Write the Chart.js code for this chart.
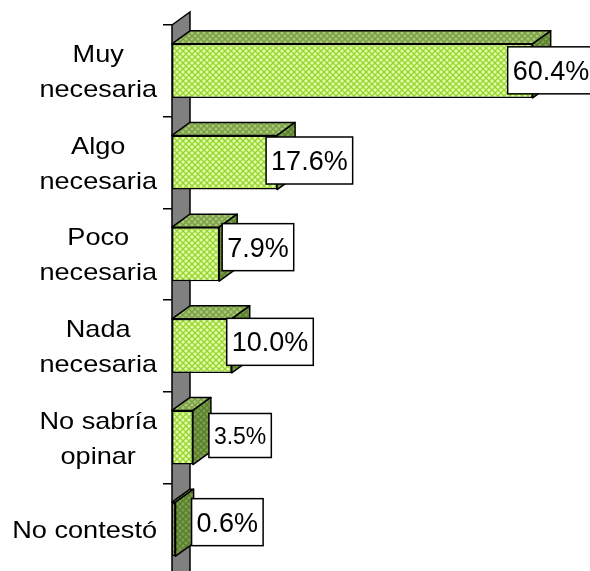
<!DOCTYPE html>
<html>
<head>
<meta charset="utf-8">
<script src="https://cdn.jsdelivr.net/npm/chart.js@4/dist/chart.umd.min.js"></script>
<style>
html, body { margin: 0; padding: 0; background: #fff; overflow: hidden; }
#wrap { width: 590px; height: 575px; }
</style>
</head>
<body>
<div id="wrap"><canvas id="myChart"></canvas></div>
<script>
// Data
const categories = [
    ['Muy', 'necesaria'],
    ['Algo', 'necesaria'],
    ['Poco', 'necesaria'],
    ['Nada', 'necesaria'],
    ['No sabría', 'opinar'],
    ['No contestó']
];
const values = [60.4, 17.6, 7.9, 10.0, 3.5, 0.6];
const valueLabels = ['60.4%', '17.6%', '7.9%', '10.0%', '3.5%', '0.6%'];

// 3D look
const DX = 18, DY = -13;
const FONT = '"Liberation Sans", Arial, sans-serif';

function makePattern(base, line, dot) {
    const c = document.createElement('canvas');
    c.width = 6; c.height = 6;
    const g = c.getContext('2d');
    g.fillStyle = base;
    g.fillRect(0, 0, 6, 6);
    g.fillStyle = line;
    for (let i = 0; i < 6; i++) {
        g.fillRect(i, i, 1, 1);
        g.fillRect(5 - i, i, 1, 1);
    }
    g.fillStyle = dot;
    g.fillRect(2, 0, 2, 1);
    g.fillRect(0, 2, 1, 2);
    g.fillRect(5, 2, 1, 2);
    g.fillRect(2, 5, 2, 1);
    return document.createElement('canvas').getContext('2d').createPattern(c, 'repeat');
}

const frontFill = makePattern('#bcee66', '#9ccf3a', '#dcffb4');
const topFill = makePattern('#8fb25a', '#7a9e44', '#a8c67c');
const sideFill = makePattern('#688e38', '#5a7e2e', '#7c9e52');

const wallPlugin = {
    id: 'wall',
    beforeDatasetsDraw(chart) {
        const { ctx, chartArea: a } = chart;
        ctx.save();
        ctx.beginPath();
        ctx.moveTo(a.left, a.top);
        ctx.lineTo(a.left + DX, a.top + DY);
        ctx.lineTo(a.left + DX, chart.height + 5);
        ctx.lineTo(a.left, chart.height + 5);
        ctx.closePath();
        ctx.fillStyle = '#808080';
        ctx.fill();
        ctx.strokeStyle = '#000';
        ctx.lineWidth = 1.5;
        ctx.stroke();
        ctx.restore();
    }
};

const barFacesPlugin = {
    id: 'barFaces',
    afterDatasetsDraw(chart) {
        const ctx = chart.ctx;
        ctx.save();
        ctx.strokeStyle = '#000';
        ctx.lineWidth = 1.5;
        ctx.lineJoin = 'round';
        chart.getDatasetMeta(0).data.forEach(bar => {
            const x0 = bar.base, x1 = bar.x;
            const t = bar.y - bar.height / 2, b = bar.y + bar.height / 2;
            // top face
            ctx.beginPath();
            ctx.moveTo(x0, t);
            ctx.lineTo(x0 + DX, t + DY);
            ctx.lineTo(x1 + DX, t + DY);
            ctx.lineTo(x1, t);
            ctx.closePath();
            ctx.fillStyle = topFill;
            ctx.fill();
            ctx.stroke();
            // side face
            ctx.beginPath();
            ctx.moveTo(x1, t);
            ctx.lineTo(x1 + DX, t + DY);
            ctx.lineTo(x1 + DX, b + DY);
            ctx.lineTo(x1, b);
            ctx.closePath();
            ctx.fillStyle = sideFill;
            ctx.fill();
            ctx.stroke();
        });
        ctx.restore();
    }
};

const labelsPlugin = {
    id: 'labels',
    afterDraw(chart) {
        const ctx = chart.ctx;
        const yScale = chart.scales.y;
        ctx.save();
        // category labels, slightly wide like the original
        const sx = 1.13, size = 24, lineGap = 35, capH = size * 0.716;
        ctx.font = size + 'px ' + FONT;
        ctx.fillStyle = '#000';
        ctx.textAlign = 'center';
        ctx.textBaseline = 'alphabetic';
        categories.forEach((lines, i) => {
            const cy = yScale.getPixelForValue(i);
            const maxW = Math.max(...lines.map(l => ctx.measureText(l).width)) * sx;
            const cx = 157 - maxW / 2;
            lines.forEach((l, j) => {
                const by = cy + (j - (lines.length - 1) / 2) * lineGap + capH / 2;
                ctx.save();
                ctx.translate(cx, by);
                ctx.scale(sx, 1);
                ctx.fillText(l, 0, 0);
                ctx.restore();
            });
        });

        // value boxes
        const nudgeX = [-25, -11, 3, -5, 16, 16];
        const nudgeY = [-0.5, -2, -7, -4, -2, -7];
        const sizes = [27, 27, 27, 27, 23, 27];
        chart.getDatasetMeta(0).data.forEach((bar, i) => {
            const fs = sizes[i];
            ctx.font = fs + 'px ' + FONT;
            const tw = ctx.measureText(valueLabels[i]).width;
            const w = tw + 10, h = fs === 27 ? 47 : 44;
            const left = bar.x + nudgeX[i];
            const cy = bar.y + nudgeY[i];
            ctx.fillStyle = '#fff';
            ctx.fillRect(left, cy - h / 2, w, h);
            ctx.strokeStyle = '#000';
            ctx.lineWidth = 1.5;
            ctx.strokeRect(left, cy - h / 2, w, h);
            ctx.fillStyle = '#000';
            ctx.textAlign = 'left';
            ctx.textBaseline = 'alphabetic';
            ctx.fillText(valueLabels[i], left + 5, cy + fs * 0.716 / 2);
        });
        ctx.restore();
    }
};

const ctx = document.getElementById('myChart').getContext('2d');
const myChart = new Chart(ctx, {
    type: 'bar',
    data: {
        labels: categories,
        datasets: [{
            data: values,
            backgroundColor: frontFill,
            borderColor: '#000',
            borderWidth: 1.5,
            borderSkipped: false,
            categoryPercentage: 1,
            barPercentage: 0.59
        }]
    },
    options: {
        indexAxis: 'y',
        responsive: true,
        maintainAspectRatio: false,
        animation: false,
        layout: { padding: { top: 25, right: 0, bottom: 0, left: 0 } },
        plugins: {
            legend: { display: false },
            tooltip: { enabled: false }
        },
        scales: {
            x: { min: 0, max: 70, display: false },
            y: {
                grid: {
                    offset: true,
                    drawOnChartArea: false,
                    tickLength: 9,
                    color: '#000',
                    lineWidth: 1.5
                },
                border: { display: false },
                ticks: { display: false },
                afterFit(s) { s.width = 172; }
            }
        }
    },
    plugins: [wallPlugin, barFacesPlugin, labelsPlugin]
});
</script>
</body>
</html>
